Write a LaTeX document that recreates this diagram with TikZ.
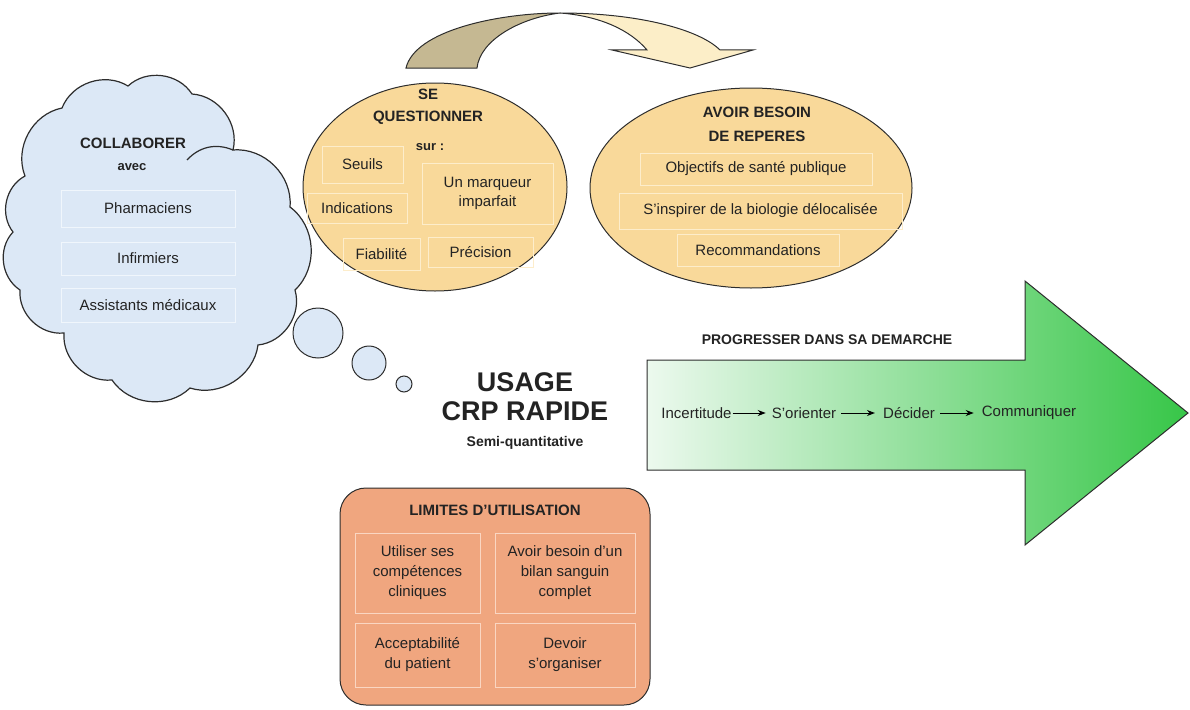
\documentclass[tikz,border=0pt]{standalone}
\usepackage{fontspec}
\setmainfont{Liberation Sans}
\usetikzlibrary{shapes.geometric,arrows.meta}
\definecolor{cloudfill}{RGB}{220,232,246}
\definecolor{cloudbox}{RGB}{240,246,252}
\definecolor{ovalfill}{RGB}{249,217,154}
\definecolor{ovalbox}{RGB}{253,237,203}
\definecolor{limfill}{RGB}{240,166,127}
\definecolor{limbox}{RGB}{250,214,194}
\definecolor{arrdark}{RGB}{197,184,146}
\definecolor{arrlight}{RGB}{252,238,200}
\definecolor{greenlight}{RGB}{236,249,238}
\definecolor{greendark}{RGB}{55,198,72}
\definecolor{outl}{RGB}{45,45,45}
\definecolor{txt}{RGB}{35,35,35}
\begin{document}
\begin{tikzpicture}[x=1pt,y=-1pt,
  every node/.style={font=\fontsize{15}{17}\selectfont, text=txt, inner sep=0pt},
  itembox/.style={draw, line width=0.9pt, anchor=center, align=center},
  ttl/.style={font=\fontsize{15}{18}\selectfont\bfseries, align=center},
  shapeline/.style={draw=outl, line width=1pt},
  flow/.style={-{Stealth[length=8pt,width=6pt]}, line width=1pt, black},
]
\useasboundingbox (0,0) rectangle (1190,709);

% ---------- curved arrow at top
\path[shapeline, fill=arrdark] (406,68) .. controls (415,30) and (500,13) .. (560,13)
   .. controls (520,18) and (480,40) .. (477,68) -- cycle;
\path[shapeline, fill=arrlight] (560,13) .. controls (640,13) and (700,30) .. (720,50)
   -- (753,50) -- (690,68) -- (612,50) -- (647,50)
   .. controls (630,30) and (600,16) .. (560,13) -- cycle;

% ---------- cloud
\path[shapeline, line width=1.2pt, fill=cloudfill]
  (25,176) to[bend left=50] (62,108) to[bend left=50] (128,86) to[bend left=50] (192,94)
  to[bend left=50] (233,150) to[bend left=50] (290,207) to[bend left=50] (295,290)
  to[bend left=50] (258,345) to[bend left=50] (190,388) to[bend left=50] (112,380)
  to[bend left=50] (64,333) to[bend left=50] (20,290) to[bend left=50] (13,232)
  to[bend left=50] cycle;
\draw[outl, line width=1.2pt] (187,160) to[bend left=35] (233,150);
\node[circle, shapeline, fill=cloudfill, minimum size=50pt] (b1) at (318,333) {};
\node[circle, shapeline, fill=cloudfill, minimum size=34pt] (b2) at (369,363) {};
\node[circle, shapeline, fill=cloudfill, minimum size=16pt] (b3) at (404,384) {};

\node[ttl] (collab) at (133,143) {COLLABORER};
\node[font=\fontsize{13}{16}\selectfont\bfseries] (avec) at (132,167) {avec};
\node[itembox, draw=cloudbox, minimum width=174pt, minimum height=37pt] (ph) at (148,208.5) {Pharmaciens};
\node[itembox, draw=cloudbox, minimum width=174pt, minimum height=33pt] (inf) at (148,258.5) {Infirmiers};
\node[itembox, draw=cloudbox, minimum width=174pt, minimum height=34pt] (ass) at (148,305) {Assistants médicaux};

% ---------- ellipse 1
\node[ellipse, shapeline, fill=ovalfill, minimum width=264pt, minimum height=208pt] (q) at (435,187) {};
\node[ttl] (se) at (428,94) {SE};
\node[ttl] (quest) at (428,118) {QUESTIONNER};
\node[font=\fontsize{13}{16}\selectfont\bfseries] (sur) at (430,147) {sur :};
\node[itembox, draw=ovalbox, minimum width=81pt, minimum height=37pt] (seuils) at (362.5,164.5) {Seuils};
\node[itembox, draw=ovalbox, minimum width=100pt, minimum height=30pt] (ind) at (357,208) {Indications};
\node[itembox, draw=ovalbox, minimum width=131pt, minimum height=61pt] (marq) at (487.5,193.5) {Un marqueur\\[2pt]imparfait};
\node[itembox, draw=ovalbox, minimum width=77pt, minimum height=32pt] (fiab) at (381.5,254) {Fiabilité};
\node[itembox, draw=ovalbox, minimum width=105pt, minimum height=30pt] (prec) at (480.5,252) {Précision};

% ---------- ellipse 2
\node[ellipse, shapeline, fill=ovalfill, minimum width=322pt, minimum height=200pt] (rep) at (751,188) {};
\node[ttl] (avoir) at (757,112) {AVOIR BESOIN};
\node[ttl] (derep) at (757,136) {DE REPERES};
\node[itembox, draw=ovalbox, minimum width=232pt, minimum height=32pt] (obj) at (756,169) {Objectifs de santé publique};
\node[itembox, draw=ovalbox, minimum width=283pt, minimum height=36pt] (insp) at (760.5,211) {S’inspirer de la biologie délocalisée};
\node[itembox, draw=ovalbox, minimum width=162pt, minimum height=32pt] (reco) at (758,250) {Recommandations};

% ---------- centre
\node[font=\fontsize{27}{30}\selectfont\bfseries] (usage) at (525,382) {USAGE};
\node[font=\fontsize{27}{30}\selectfont\bfseries] (crp) at (525,411) {CRP RAPIDE};
\node[font=\fontsize{14}{16}\selectfont\bfseries] (semi) at (525,443) {Semi-quantitative};

% ---------- limites
\node[shapeline, fill=limfill, rounded corners=26pt, minimum width=310pt, minimum height=217pt] (lim) at (495,596.5) {};
\node[ttl] (limt) at (495,510) {LIMITES D’UTILISATION};
\node[itembox, draw=limbox, minimum width=125pt, minimum height=80pt] (l1) at (417.5,573) {Utiliser ses\\[3pt]compétences\\[3pt]cliniques};
\node[itembox, draw=limbox, minimum width=140pt, minimum height=80pt] (l2) at (565,573) {Avoir besoin d’un\\[3pt]bilan sanguin\\[3pt]complet};
\node[itembox, draw=limbox, minimum width=125pt, minimum height=64pt] (l3) at (417.5,655) {Acceptabilité\\[3pt]du patient};
\node[itembox, draw=limbox, minimum width=140pt, minimum height=64pt] (l4) at (565,655) {Devoir\\[3pt]s’organiser};

% ---------- green arrow
\path[shapeline, left color=greenlight, right color=greendark]
  (647,360) -- (1025,360) -- (1025,281) -- (1188,413) -- (1025,545) -- (1025,470) -- (647,470) -- cycle;
\node[ttl, font=\fontsize{14}{17}\selectfont\bfseries] (prog) at (827,340) {PROGRESSER DANS SA DEMARCHE};
\node (inc) at (696.5,413) {Incertitude};
\node (ori) at (804,413) {S'orienter};
\node (dec) at (909,413) {Décider};
\node (com) at (1029,413) {Communiquer};
\draw[flow, shorten <=1pt, shorten >=6pt] (inc.east) -- (ori.west);
\draw[flow, shorten <=5pt, shorten >=8pt] (ori.east) -- (dec.west);
\draw[flow, shorten <=5pt, shorten >=8pt] (dec.east) -- (com.west);
\end{tikzpicture}
\end{document}
